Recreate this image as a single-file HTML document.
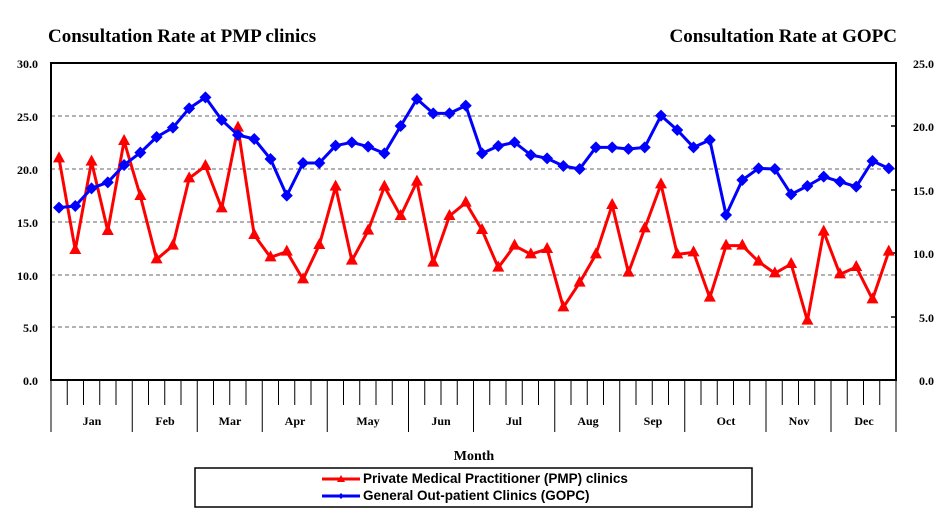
<!DOCTYPE html>
<html><head><meta charset="utf-8"><style>
html,body{margin:0;padding:0;background:#fff;width:948px;height:514px;overflow:hidden}
svg text{font-family:"Liberation Serif",serif;font-weight:bold}
</style></head><body>
<svg id="s" width="948" height="514" xmlns="http://www.w3.org/2000/svg">
<text x="48" y="42" font-size="19">Consultation Rate at PMP clinics</text>
<text x="897" y="42" font-size="19" text-anchor="end">Consultation Rate at GOPC</text>
<g stroke="#666" stroke-width="1" stroke-dasharray="4,3">
<line x1="51" x2="896" y1="116" y2="116"/><line x1="51" x2="896" y1="169" y2="169"/>
<line x1="51" x2="896" y1="222" y2="222"/><line x1="51" x2="896" y1="275" y2="275"/>
<line x1="51" x2="896" y1="327" y2="327"/></g>
<g font-size="12" text-anchor="end">
<text x="38" y="68">30.0</text><text x="38" y="121">25.0</text><text x="38" y="174">20.0</text>
<text x="38" y="227">15.0</text><text x="38" y="280">10.0</text><text x="38" y="332">5.0</text><text x="38" y="385">0.0</text>
</g>
<g font-size="12" text-anchor="end">
<text x="934" y="68">25.0</text><text x="934" y="131">20.0</text><text x="934" y="195">15.0</text>
<text x="934" y="258">10.0</text><text x="934" y="322">5.0</text><text x="934" y="385">0.0</text>
</g>
<g stroke="#000" stroke-width="1.5">
<line x1="891" x2="896" y1="126" y2="126"/><line x1="891" x2="896" y1="190" y2="190"/>
<line x1="891" x2="896" y1="253" y2="253"/><line x1="891" x2="896" y1="317" y2="317"/>
</g>
<g id="ticks" stroke="#000" stroke-width="1"></g>
<rect x="51" y="63" width="845" height="317" fill="none" stroke="#000" stroke-width="2"/>
<g font-size="12" text-anchor="middle">
<text x="92" y="425">Jan</text><text x="165" y="425">Feb</text><text x="230" y="425">Mar</text>
<text x="295" y="425">Apr</text><text x="368" y="425">May</text><text x="441" y="425">Jun</text>
<text x="514" y="425">Jul</text><text x="588" y="425">Aug</text><text x="653" y="425">Sep</text>
<text x="726" y="425">Oct</text><text x="799" y="425">Nov</text><text x="864" y="425">Dec</text>
</g>
<text x="474" y="460" font-size="14" text-anchor="middle">Month</text>
<g id="series"></g>
<rect x="195" y="468" width="557" height="39" fill="none" stroke="#000" stroke-width="1.5"/>
<line x1="322" x2="360" y1="479" y2="479" stroke="#f00" stroke-width="3"/>
<polygon points="341,475 345,482 337,482" fill="#f00"/>
<line x1="322" x2="360" y1="496" y2="496" stroke="#00f" stroke-width="3"/>
<polygon points="341,493 344,496 341,499 338,496" fill="#00f"/>
<text x="363" y="483" font-size="13.5" style="font-family:'Liberation Sans',sans-serif">Private Medical Practitioner (PMP) clinics</text>
<text x="363" y="500" font-size="13.5" style="font-family:'Liberation Sans',sans-serif">General Out-patient Clinics (GOPC)</text>
</svg>
<script>
var NS="http://www.w3.org/2000/svg";
var red=[310,585,320,528,258,423,613,572,370,333,460,218,540,607,590,673,570,395,617,527,395,483,380,623,483,443,525,638,572,598,582,757,683,598,450,653,520,388,598,592,728,572,572,620,655,627,797,530,658,636,733,590];
var blue=[458,453,400,382,330,293,246,218,160,127,195,240,252,312,422,324,324,272,262,275,295,213,132,175,175,152,295,273,262,300,310,333,342,277,277,282,277,182,225,277,255,480,375,340,342,418,393,365,380,395,318,340];
function X(i){return 59+i*16.27}
function Y(z){return 55+z/3}
var g=document.getElementById("series"),t=document.getElementById("ticks");
var longs=[0,5,9,13,17,22,26,31,35,39,44,48,52];
for(var k=0;k<=52;k++){var x=51+k*(845/52);var l=document.createElementNS(NS,"line");
l.setAttribute("x1",x);l.setAttribute("x2",x);l.setAttribute("y1",380);l.setAttribute("y2",longs.indexOf(k)>=0?432:405);t.appendChild(l);}
function draw(d,c,tri){var p=d.map(function(z,i){return X(i)+","+Y(z)}).join(" ");
var pl=document.createElementNS(NS,"polyline");pl.setAttribute("points",p);pl.setAttribute("fill","none");
pl.setAttribute("stroke",c);pl.setAttribute("stroke-width","3");pl.setAttribute("stroke-linejoin","round");g.appendChild(pl);
d.forEach(function(z,i){var x=X(i),y=Y(z);var m=document.createElementNS(NS,"polygon");
m.setAttribute("points",tri?(x+","+(y-7)+" "+(x+6)+","+(y+4)+" "+(x-6)+","+(y+4)):(x+","+(y-6)+" "+(x+6)+","+y+" "+x+","+(y+6)+" "+(x-6)+","+y));
m.setAttribute("fill",c);g.appendChild(m);});}
draw(red,"#f00",true);draw(blue,"#00f",false);
</script>
</body></html>
